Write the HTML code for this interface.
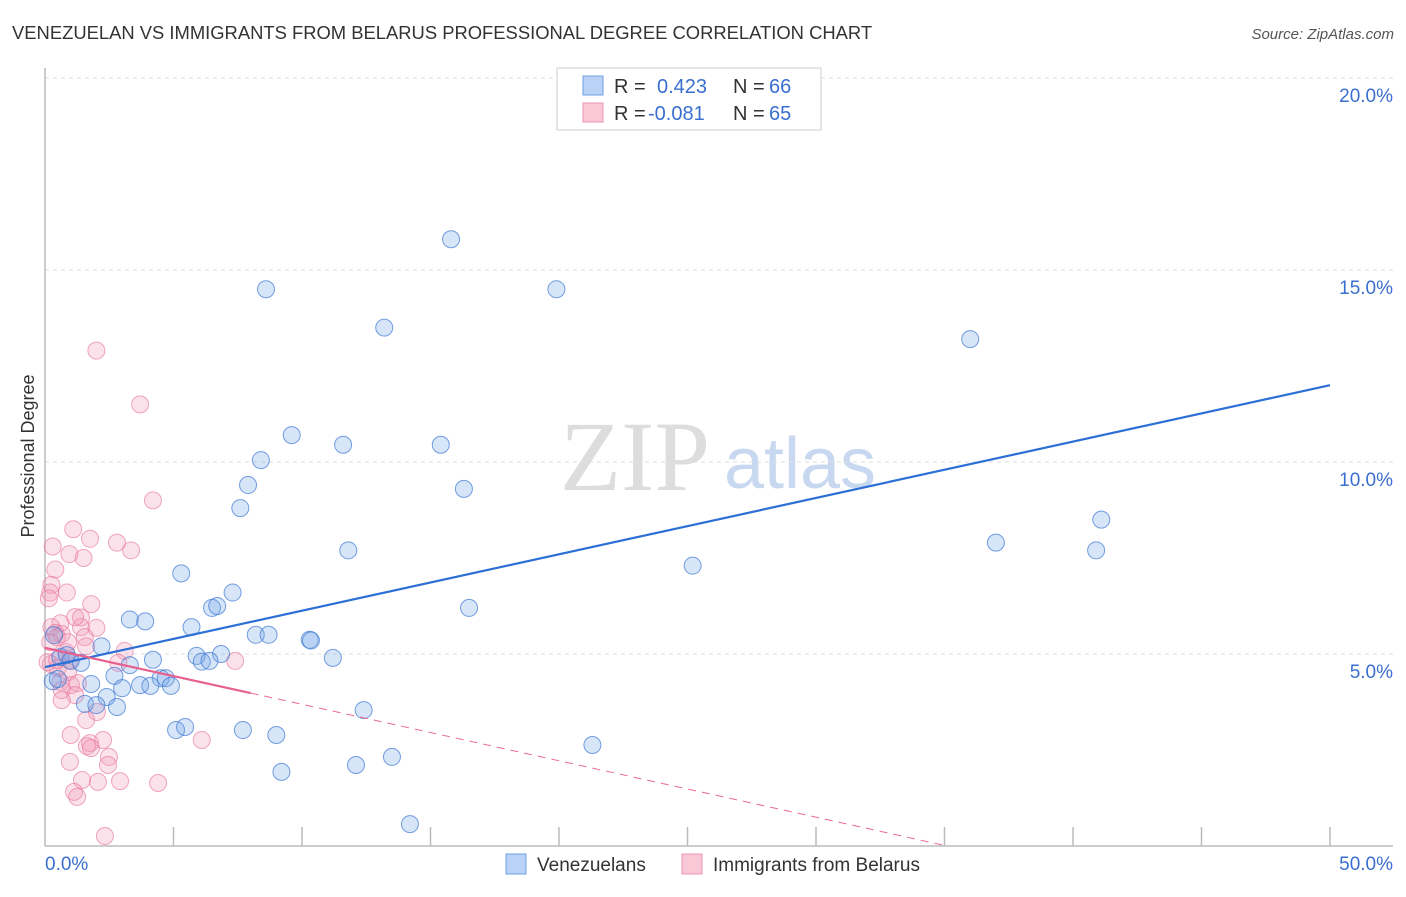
<!DOCTYPE html>
<html><head><meta charset="utf-8"><style>
body{margin:0;background:#fff;font-family:"Liberation Sans",sans-serif;}
svg text{font-family:"Liberation Sans",sans-serif;}
</style></head><body>
<svg id="chart" width="1406" height="892" xmlns="http://www.w3.org/2000/svg">
<text x="12" y="39" font-size="18.4" fill="#333">VENEZUELAN VS IMMIGRANTS FROM BELARUS PROFESSIONAL DEGREE CORRELATION CHART</text>
<text x="1394" y="39" font-size="15" fill="#555" text-anchor="end" font-style="italic">Source: ZipAtlas.com</text>
<g>
<text x="635" y="490" font-size="100" fill="#ddd" style="font-family:'Liberation Serif',serif" text-anchor="middle">ZIP</text>
<text x="800" y="488" font-size="72" fill="#c8d8f0" text-anchor="middle">atlas</text>
</g>
<g id="grid"></g>
<g id="axes"></g>
<g id="pts"></g>
<g id="lines"></g>
<text transform="translate(34,456) rotate(-90)" font-size="18" fill="#333" text-anchor="middle">Professional Degree</text>
<g>
<rect x="557" y="68" width="264" height="62" fill="#fff" stroke="#ccc"/>
<rect x="583" y="76" width="20" height="19" fill="#b9d2f5" stroke="#6d9ee6"/>
<rect x="583" y="103" width="20" height="19" fill="#f9c7d6" stroke="#ea94b0"/>
<text x="614" y="93" font-size="20" fill="#333">R =</text>
<text x="657" y="93" font-size="20" fill="#3a6fd0">0.423</text>
<text x="733" y="93" font-size="20" fill="#333">N =</text>
<text x="769" y="93" font-size="20" fill="#3a6fd0">66</text>
<text x="614" y="120" font-size="20" fill="#333">R =</text>
<text x="648" y="120" font-size="20" fill="#3a6fd0">-0.081</text>
<text x="733" y="120" font-size="20" fill="#333">N =</text>
<text x="769" y="120" font-size="20" fill="#3a6fd0">65</text>
</g>
<g>
<rect x="506" y="854" width="20" height="20" fill="#b9d2f5" stroke="#6d9ee6"/>
<text x="537" y="871" font-size="19" fill="#333">Venezuelans</text>
<rect x="682" y="854" width="20" height="20" fill="#f9c7d6" stroke="#ea94b0"/>
<text x="713" y="871" font-size="19" fill="#333">Immigrants from Belarus</text>
</g>
</svg>
<script>
const yTicks=[5,10,15,20];
const yTickLabels=["5.0%","10.0%","15.0%","20.0%"];
const xEndLabels=["0.0%","50.0%"];
const blueX=[15.8,8.6,19.9,13.2,36.0,9.6,11.6,15.4,8.4,16.3,7.9,7.6,41.1,11.8,37.0,40.9,5.3,25.2,7.3,6.5,6.7,16.5,3.3,3.9,5.7,8.2,8.7,10.3,10.35,2.2,11.2,4.2,5.9,6.85,6.1,6.4,3.3,2.7,4.5,4.7,3.7,4.1,4.9,3.0,1.8,2.4,2.8,1.55,2.0,12.4,5.1,5.45,7.7,9.0,21.3,13.5,12.1,9.2,14.2,0.3,0.5,0.35,0.6,0.85,1.0,1.4];
const blueY=[15.8,14.5,14.5,13.5,13.2,10.7,10.45,10.45,10.05,9.3,9.4,8.8,8.5,7.7,7.9,7.7,7.1,7.3,6.6,6.2,6.25,6.2,5.9,5.85,5.7,5.5,5.5,5.37,5.35,5.2,4.9,4.85,4.95,5.0,4.8,4.82,4.71,4.43,4.37,4.37,4.19,4.17,4.17,4.11,4.22,3.88,3.62,3.7,3.67,3.54,3.02,3.1,3.02,2.89,2.63,2.32,2.11,1.93,0.57,4.29,4.35,5.49,4.92,4.97,4.82,4.77];
const pinkX=[2.0,3.7,4.2,1.1,2.8,3.35,0.3,0.95,1.5,0.4,0.25,0.85,0.2,0.15,1.8,1.4,0.6,0.25,1.4,2.0,0.4,1.55,0.47,0.65,1.6,3.1,2.85,7.4,0.82,0.97,0.23,0.5,0.9,0.6,1.01,1.28,0.65,1.17,2.02,1.6,1.0,2.26,1.75,1.63,1.79,2.49,0.97,2.45,1.44,2.92,2.06,4.4,1.13,1.25,2.33,6.1,0.65,0.2,0.1,0.47,0.9,1.17,1.75];
const pinkY=[12.9,11.5,9.0,8.25,7.9,7.7,7.8,7.6,7.5,7.2,6.8,6.6,6.6,6.45,6.3,5.95,5.8,5.7,5.7,5.68,5.55,5.44,5.44,5.52,5.2,5.08,4.77,4.82,5.05,4.84,4.74,4.64,4.53,4.27,4.19,4.24,4.06,3.93,3.49,3.28,2.89,2.76,2.68,2.6,2.55,2.32,2.19,2.11,1.72,1.69,1.67,1.64,1.41,1.28,0.26,2.76,3.8,5.31,4.79,4.84,5.31,5.96,8.0];
const blueTrend=[4.66,0.1468];
const pinkTrend=[5.16,-0.147,8];
const NS="http://www.w3.org/2000/svg";
const X0=45,X1=1330,Y0=846,PXY=38.4;
function sx(v){return X0+(X1-X0)*v/50;}
function sy(v){return Y0-v*PXY;}
function mk(tag,attrs,parent){const e=document.createElementNS(NS,tag);for(const k in attrs)e.setAttribute(k,attrs[k]);parent.appendChild(e);return e;}
const grid=document.getElementById('grid'),axes=document.getElementById('axes'),pts=document.getElementById('pts'),lines=document.getElementById('lines');
yTicks.forEach((t,i)=>{
 const l=mk('line',{x1:45,x2:1393,y1:sy(t),y2:sy(t),stroke:'#ddd','stroke-dasharray':'4,4'},grid);
 
 
 const tx=mk('text',{x:1393,y:sy(t)+24,'font-size':19,fill:'#3a6fd0','text-anchor':'end'},axes);
 tx.textContent=yTickLabels[i];
 
 
});
const yl=mk('line',{x1:45,x2:45,y1:68,y2:846,stroke:'#bbb','stroke-width':1.5},axes);


const xl=mk('line',{x1:45,x2:1393,y1:846,y2:846,stroke:'#bbb','stroke-width':1.5},axes);


for(let v=5;v<=50;v+=5){
 const t=mk('line',{x1:sx(v),x2:sx(v),y1:827,y2:846,stroke:'#bbb','stroke-width':1.5},axes);
 
 
}
const xa=mk('text',{x:45,y:870,'font-size':19,fill:'#3a6fd0'},axes);xa.textContent=xEndLabels[0];


const xb=mk('text',{x:1393,y:870,'font-size':19,fill:'#3a6fd0','text-anchor':'end'},axes);xb.textContent=xEndLabels[1];


pinkX.forEach((x,i)=>{
 const c=mk('circle',{cx:sx(x),cy:sy(pinkY[i]),r:8.5,fill:'rgba(242,150,180,0.28)',stroke:'rgba(232,120,160,0.65)','stroke-width':1},pts);
 
 
});
blueX.forEach((x,i)=>{
 const c=mk('circle',{cx:sx(x),cy:sy(blueY[i]),r:8.5,fill:'rgba(110,160,230,0.28)',stroke:'rgba(60,120,210,0.7)','stroke-width':1},pts);
 
 
});
const bl=mk('line',{x1:sx(0),y1:sy(blueTrend[0]),x2:sx(50),y2:sy(blueTrend[0]+50*blueTrend[1]),stroke:'#2c6fd6','stroke-width':2.2},lines);


const xe=-pinkTrend[0]/pinkTrend[1];
const pd=mk('line',{x1:sx(pinkTrend[2]),y1:sy(pinkTrend[0]+pinkTrend[2]*pinkTrend[1]),x2:sx(xe),y2:sy(0),stroke:'#e86a95','stroke-width':1,'stroke-dasharray':'8,6'},lines);


const ps=mk('line',{x1:sx(0),y1:sy(pinkTrend[0]),x2:sx(pinkTrend[2]),y2:sy(pinkTrend[0]+pinkTrend[2]*pinkTrend[1]),stroke:'#e8608e','stroke-width':2.2},lines);


</script>
</body></html>
